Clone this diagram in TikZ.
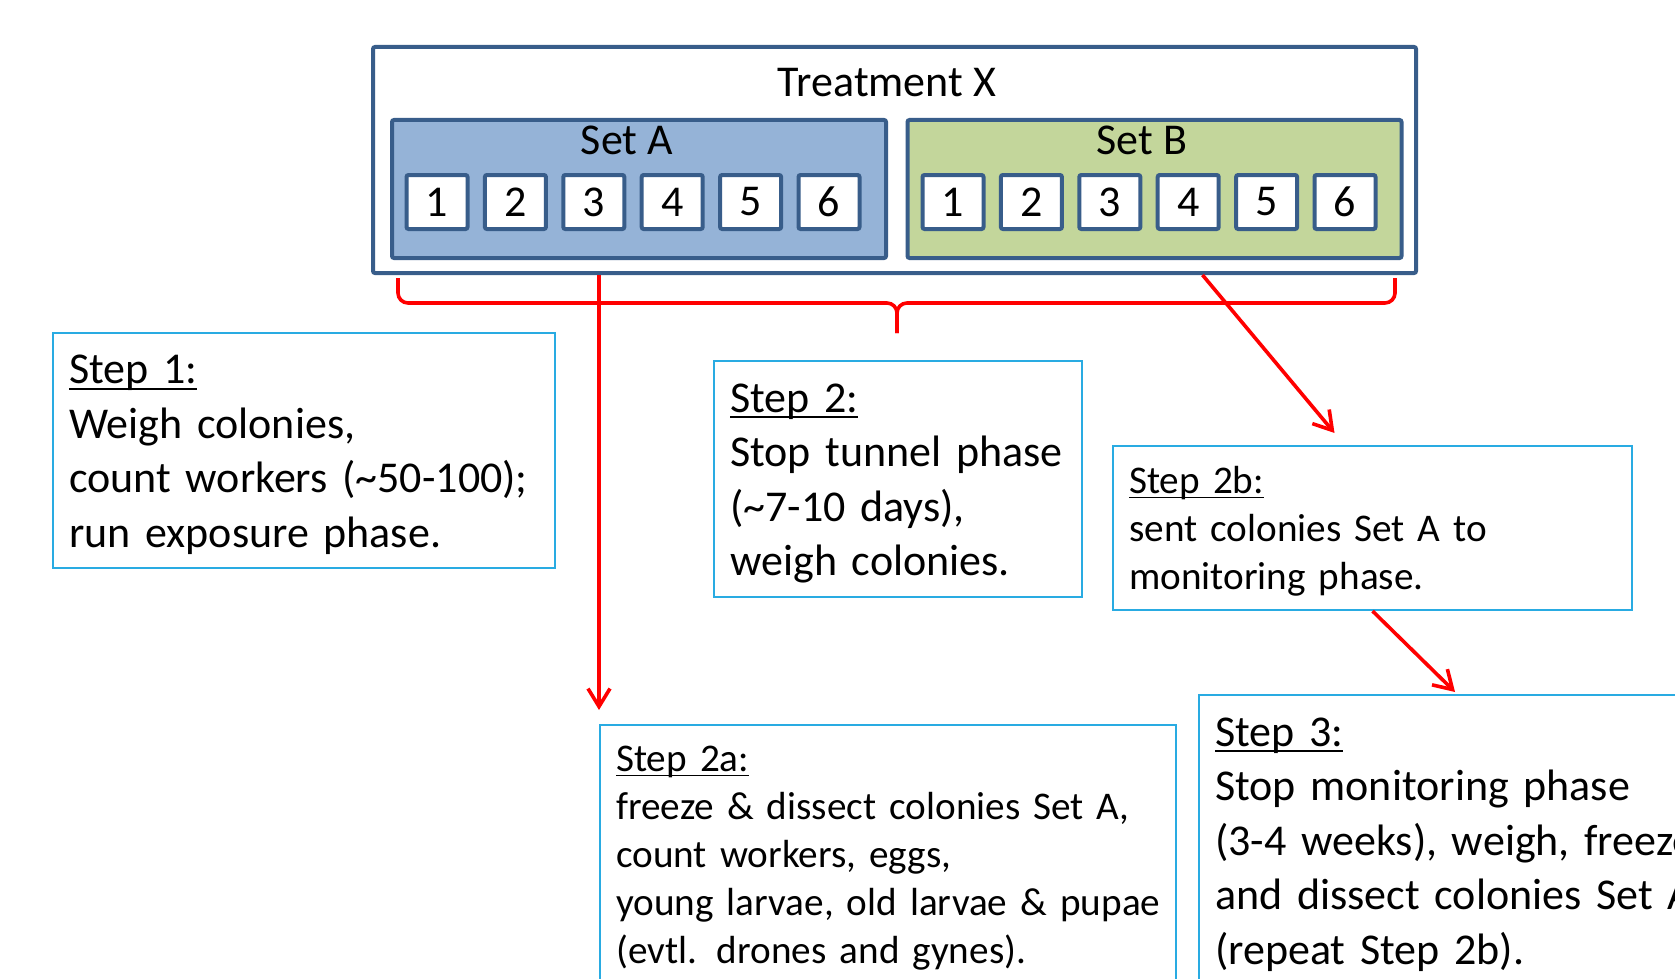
\documentclass[tikz,border=0pt]{standalone}
\usepackage{fontspec}
\setmainfont{Carlito}
\usetikzlibrary{arrows.meta,calc,chains,positioning}
\definecolor{setline}{HTML}{385D8A}
\definecolor{setAfill}{HTML}{95B3D7}
\definecolor{setBfill}{HTML}{C3D69B}
\definecolor{stepline}{HTML}{29ABE2}
\definecolor{flowred}{HTML}{FF0000}
\tikzset{every picture/.style={
  >={Straight Barb[length=9pt,width=11pt]} % Open arrow heads.
  }
}
\newcommand{\stephead}[1]{\leavevmode\rule{0pt}{0.85em}\sbox0{#1}\rlap{\rule[-0.13em]{\wd0}{0.045em}}\usebox0}

\begin{document}
\begin{tikzpicture}[
    x=0.5pt, y=-0.5pt,
    node distance=6.7pt,
    bigfont/.style={font=\fontsize{22}{27.25}\selectfont},
    smallfont/.style={font=\fontsize{19.6}{24}\selectfont},
    treatbox/.style={
      rectangle,
      draw=setline,
      line width=2pt,
      fill=white,
      rounded corners=1pt,
      minimum width=521.5pt,
      minimum height=113pt
    },
    setbox/.style={
      rectangle,
      draw=setline,
      line width=2pt,
      rounded corners=1pt,
      minimum width=247pt,
      minimum height=69pt
    },
    colony/.style={
      rectangle,
      draw=setline,
      line width=2pt,
      fill=white,
      rounded corners=1pt,
      bigfont,
      inner sep=0pt,
      minimum width=30.5pt,
      minimum height=27pt
    },
    boxtitle/.style={bigfont,inner sep=1pt},
    stepbox/.style={
      rectangle,
      draw=stepline,
      line width=1.2pt,
      fill=white,
      anchor=north west,
      align=left,
      inner xsep=8pt
    },
    flow/.style={draw=flowred,line width=1.8pt}]

    \useasboundingbox (0,0) rectangle (1675,979);
    \clip (0,0) rectangle (1675,979);

    % The treatment with its two sets of colonies.
    \node[treatbox] (treat) at (894.5,160) {};
    \node[boxtitle] (treattitle) at (887,83) {Treatment X};
    \node[setbox,fill=setAfill] (setA) at (639,189) {};
    \node[setbox,fill=setBfill] (setB) at (1154.5,189) {};
    \node[boxtitle] (setAtitle) at (627,140) {Set A};
    \node[boxtitle] (setBtitle) at (1142,140) {Set B};

    \begin{scope}[start chain=A going right]
      \node[on chain,colony] (a1) at (437,202) {1};
      \node[on chain,colony] (a2) {2};
      \node[on chain,colony] (a3) {3};
      \node[on chain,colony] (a4) {4};
      \node[on chain,colony] (a5) {5};
      \node[on chain,colony] (a6) {6};
    \end{scope}
    \begin{scope}[start chain=B going right]
      \node[on chain,colony] (b1) at (953,202) {1};
      \node[on chain,colony] (b2) {2};
      \node[on chain,colony] (b3) {3};
      \node[on chain,colony] (b4) {4};
      \node[on chain,colony] (b5) {5};
      \node[on chain,colony] (b6) {6};
    \end{scope}

    % The steps of the experiment.
    \node[stepbox,bigfont,text width=234.8pt,minimum height=117.3pt] (step1) at (52,332)
      {\stephead{Step 1:}\\Weigh colonies,\\count workers (\textasciitilde 50-100);\\run exposure phase.};
    \node[stepbox,bigfont,text width=167.8pt,minimum height=117.8pt] (step2) at (713,360)
      {\stephead{Step 2:}\\Stop tunnel phase\\(\textasciitilde 7-10 days),\\weigh colonies.};
    \node[stepbox,smallfont,text width=243.3pt,minimum height=81.8pt] (step2b) at (1112,445)
      {\stephead{Step 2b:}\\sent colonies Set A to\\monitoring phase.};
    \node[stepbox,smallfont,text width=271.8pt,inner ysep=6.4pt] (step2a) at (599,724)
      {\stephead{Step 2a:}\\freeze \& dissect colonies Set A,\\count workers, eggs,\\young larvae, old larvae \& pupae\\(evtl. drones and gynes).};
    \node[stepbox,bigfont,text width=250pt,inner ysep=6.9pt] (step3) at (1198,694)
      {\stephead{Step 3:}\\Stop monitoring phase\\(3-4 weeks), weigh, freeze\\and dissect colonies Set A\\(repeat Step 2b).};

    % Bracket under both sets.
    \draw[flow,rounded corners=5pt] (398,278) |- (897,303) -- (897,333);
    \draw[flow,rounded corners=5pt] (1395,278) |- (897,303) -- (897,333);

    % Arrows from the sets to the later steps.
    \draw[flow,->] (step2a.north west |- treat.south) -- ([yshift=7pt]step2a.north west);
    \draw[flow,->] ([xshift=154pt]treat.south) -- ([xshift=-19pt,yshift=6pt]step2b.north);
    \draw[flow,->] (step2b.south) -- ([xshift=128.5pt,yshift=1pt]step3.north west);
  \end{tikzpicture}
\end{document}
